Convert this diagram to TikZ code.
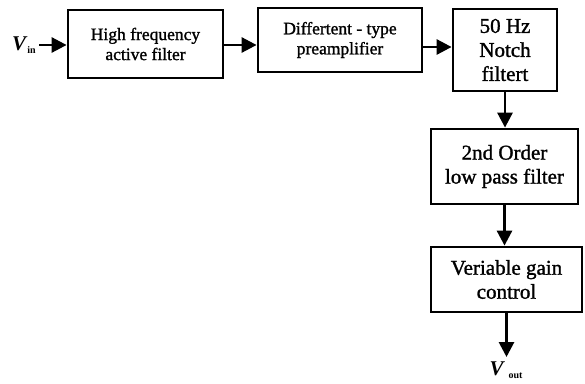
\documentclass[tikz,border=0pt]{standalone}
\usepackage{fontspec}
\setmainfont{Liberation Serif}
\newfontfamily\heavy{Liberation Serif}[FakeBold=1.3]
\usetikzlibrary{arrows.meta,calc}
\tikzset{
  blk/.style={draw,line width=2.8pt,align=center,inner sep=2pt},
  smalltxt/.style={font=\heavy\fontsize{17.5}{20}\selectfont},
  bigtxt/.style={font=\heavy\fontsize{21}{24}\selectfont},
  arr/.style={line width=2.8pt,-{Triangle[length=15pt,width=15pt]}},
  io/.style={inner sep=0pt,font=\fontsize{21}{24}\selectfont}
}
\begin{document}
\begin{tikzpicture}[x=1pt,y=-1pt]
\useasboundingbox (0,0) rectangle (585,383);
\node[blk,smalltxt,minimum width=155pt,minimum height=68pt] (b1) at (145.5,44) {High frequency\\active filter};
\node[blk,smalltxt,minimum width=164pt,minimum height=64pt] (b2) at (340,40) {Differtent - type\\preamplifier};
\node[blk,bigtxt,minimum width=104pt,minimum height=82pt] (b3) at (505,50) {50 Hz\\Notch\\filtert};
\node[blk,bigtxt,minimum width=147pt,minimum height=75pt] (b4) at (504.5,166.5) {2nd Order\\low pass filter};
\node[blk,bigtxt,minimum width=151pt,minimum height=65pt] (b5) at (506.5,279.5) {Veriable gain\\control};
\node[io,anchor=east] (vin) at (36,45) {\textbf{\textit{V}}\raisebox{-3pt}{\fontsize{10}{11}\selectfont\textbf{in}}};
\node[io,anchor=north] (vout) at (506,362) {\textbf{\textit{V}}\,\raisebox{-3pt}{\fontsize{10}{11}\selectfont\textbf{out}}};
\draw[arr] ([xshift=3pt]vin.east) -- (vin.east -| b1.west);
\draw[arr] (b1.east |- vin.east) -- (vin.east -| b2.west);
\draw[arr] ([yshift=-7pt]b2.east) -- ([yshift=-7pt]b2.east -| b3.west);
\draw[arr] (b3.south) -- (b3.south |- b4.north);
\draw[arr] (b4.south) -- (b4.south |- b5.north);
\draw[arr] (b5.south) -- ([yshift=5pt]b5.south |- vout.north);
\end{tikzpicture}
\end{document}
